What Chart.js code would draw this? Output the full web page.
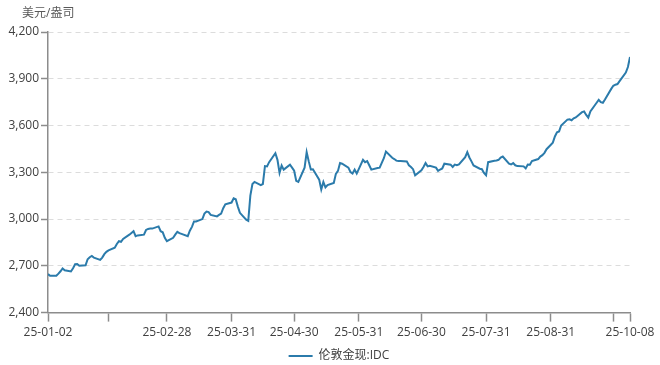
<!DOCTYPE html>
<html>
  <head>
    <meta charset="UTF-8" />
    <title>伦敦金现</title>
    <script src="https://cdn.jsdelivr.net/npm/chart.js@4.4.1/dist/chart.umd.min.js"></script>
    <style>
      html, body { margin: 0; padding: 0; background: #fff; }
      #wrap { position: relative; width: 660px; height: 365px; }
    </style>
  </head>
  <body>
    <div id="wrap"><canvas id="goldChart"></canvas></div>
    <script>
      // trading days, one line per month
      const dates = [
        "2025-01-02","2025-01-03","2025-01-06","2025-01-07","2025-01-08","2025-01-09","2025-01-10","2025-01-13","2025-01-14","2025-01-15","2025-01-16","2025-01-17","2025-01-20","2025-01-21","2025-01-22","2025-01-23","2025-01-24","2025-01-27","2025-01-28","2025-01-29","2025-01-30","2025-01-31",
        "2025-02-03","2025-02-04","2025-02-05","2025-02-06","2025-02-07","2025-02-10","2025-02-11","2025-02-12","2025-02-13","2025-02-14","2025-02-17","2025-02-18","2025-02-19","2025-02-20","2025-02-21","2025-02-24","2025-02-25","2025-02-26","2025-02-27","2025-02-28",
        "2025-03-03","2025-03-04","2025-03-05","2025-03-06","2025-03-07","2025-03-10","2025-03-11","2025-03-12","2025-03-13","2025-03-14","2025-03-17","2025-03-18","2025-03-19","2025-03-20","2025-03-21","2025-03-24","2025-03-25","2025-03-26","2025-03-27","2025-03-28","2025-03-31",
        "2025-04-01","2025-04-02","2025-04-03","2025-04-04","2025-04-07","2025-04-08","2025-04-09","2025-04-10","2025-04-11","2025-04-14","2025-04-15","2025-04-16","2025-04-17","2025-04-18","2025-04-21","2025-04-22","2025-04-23","2025-04-24","2025-04-25","2025-04-28","2025-04-29","2025-04-30",
        "2025-05-01","2025-05-02","2025-05-05","2025-05-06","2025-05-07","2025-05-08","2025-05-09","2025-05-12","2025-05-13","2025-05-14","2025-05-15","2025-05-16","2025-05-19","2025-05-20","2025-05-21","2025-05-22","2025-05-23","2025-05-26","2025-05-27","2025-05-28","2025-05-29","2025-05-30",
        "2025-06-02","2025-06-03","2025-06-04","2025-06-05","2025-06-06","2025-06-09","2025-06-10","2025-06-11","2025-06-12","2025-06-13","2025-06-16","2025-06-17","2025-06-18","2025-06-19","2025-06-20","2025-06-23","2025-06-24","2025-06-25","2025-06-26","2025-06-27","2025-06-30",
        "2025-07-01","2025-07-02","2025-07-03","2025-07-04","2025-07-07","2025-07-08","2025-07-09","2025-07-10","2025-07-11","2025-07-14","2025-07-15","2025-07-16","2025-07-17","2025-07-18","2025-07-21","2025-07-22","2025-07-23","2025-07-24","2025-07-25","2025-07-28","2025-07-29","2025-07-30","2025-07-31",
        "2025-08-01","2025-08-04","2025-08-05","2025-08-06","2025-08-07","2025-08-08","2025-08-11","2025-08-12","2025-08-13","2025-08-14","2025-08-15","2025-08-18","2025-08-19","2025-08-20","2025-08-21","2025-08-22","2025-08-25","2025-08-26","2025-08-27","2025-08-28","2025-08-29",
        "2025-09-01","2025-09-02","2025-09-03","2025-09-04","2025-09-05","2025-09-08","2025-09-09","2025-09-10","2025-09-11","2025-09-12","2025-09-15","2025-09-16","2025-09-17","2025-09-18","2025-09-19","2025-09-22","2025-09-23","2025-09-24","2025-09-25","2025-09-26","2025-09-29","2025-09-30",
        "2025-10-01","2025-10-02","2025-10-03","2025-10-06","2025-10-07","2025-10-08"
      ];

      // 伦敦金现 (USD/oz), same order as dates
      const prices = [
        2647,2636,2636,2650,2665,2683,2672,2664,2685,2710,2712,2700,2704,2742,2755,2763,2753,2738,2753,2775,2790,2799,
        2816,2840,2858,2854,2873,2900,2911,2922,2890,2895,2900,2930,2937,2939,2939,2953,2922,2915,2880,2858,
        2880,2900,2918,2910,2905,2890,2925,2950,2985,2985,3000,3035,3048,3045,3027,3017,3027,3035,3070,3095,3106,
        3133,3127,3080,3040,2996,2988,3150,3225,3238,3218,3225,3340,3338,3365,3422,3380,3296,3344,3317,3349,3330,3310,
        3245,3238,3330,3429,3370,3318,3319,3253,3190,3238,3203,3218,3232,3290,3309,3359,3355,3330,3302,3292,3317,3292,
        3380,3365,3372,3345,3317,3328,3330,3360,3390,3433,3393,3385,3375,3372,3372,3370,3345,3334,3320,3281,3313,
        3334,3359,3338,3342,3330,3309,3318,3325,3355,3349,3334,3349,3345,3350,3397,3429,3395,3370,3344,3323,3320,3296,3281,
        3365,3374,3376,3380,3395,3401,3355,3350,3359,3345,3340,3338,3325,3350,3349,3372,3385,3401,3410,3425,3448,
        3490,3530,3556,3562,3600,3638,3640,3634,3646,3652,3686,3690,3668,3651,3690,3746,3765,3750,3746,3767,3835,3855,
        3862,3866,3885,3940,3975,4040
      ];

      // x axis ticks (month ends), some drawn without a label
      const tickDates = ["2025-01-02","2025-01-31","2025-02-28","2025-03-31","2025-04-30","2025-05-31","2025-06-30","2025-07-31","2025-08-31","2025-09-30","2025-10-08"];
      const hiddenTickLabels = ["2025-01-31","2025-09-30"];

      const yTicks = [2400, 2700, 3000, 3300, 3600, 3900, 4200];
      const seriesName = "伦敦金现:IDC";
      const unitLabel = "美元/盎司";

      const DAY = 86400000;
      const start = Date.parse(dates[0] + "T00:00:00Z");
      const dayOf = (d) => Math.round((Date.parse(d + "T00:00:00Z") - start) / DAY);
      const tickDays = tickDates.map(dayOf);

      const points = dates.map((d, i) => ({ x: dayOf(d), y: prices[i] }));

      const fontFamily = "'Open Sans', 'Noto Sans CJK SC', sans-serif";
      const axisGray = "#8c8c8c";
      const textGray = "#404040";

      // unit label drawn flat above the y axis
      const unitTitle = {
        id: "unitTitle",
        afterDraw(chart) {
          const { ctx, chartArea } = chart;
          ctx.save();
          ctx.font = "12px " + fontFamily;
          ctx.fillStyle = "#595959";
          ctx.textAlign = "left";
          ctx.textBaseline = "middle";
          ctx.fillText(unitLabel, chartArea.left - 26, chartArea.top - 18);
          ctx.restore();
        }
      };

      // centre the legend under the plot area rather than the canvas
      const legendShift = {
        id: "legendShift",
        afterLayout(chart) {
          const lg = chart.legend;
          if (!lg) return;
          const dx = (chart.chartArea.left + chart.chartArea.right) / 2 - (lg.left + lg.right) / 2;
          lg.left += dx;
          lg.right += dx;
        }
      };

      new Chart(document.getElementById("goldChart"), {
        type: "line",
        data: {
          datasets: [
            {
              label: seriesName,
              data: points,
              borderColor: "#2b7bab",
              backgroundColor: "#2b7bab",
              borderWidth: 2,
              pointRadius: 0,
              tension: 0
            }
          ]
        },
        options: {
          responsive: true,
          maintainAspectRatio: false,
          animation: false,
          layout: { padding: { left: 4, right: 30, top: 32, bottom: -7 } },
          plugins: {
            tooltip: { enabled: false },
            legend: {
              position: "bottom",
              labels: {
                usePointStyle: true,
                pointStyle: "line",
                pointStyleWidth: 24,
                color: textGray,
                font: { family: fontFamily, size: 12 },
                padding: 6
              }
            }
          },
          scales: {
            x: {
              type: "linear",
              min: 0,
              max: tickDays[tickDays.length - 1],
              afterBuildTicks: (scale) => {
                scale.ticks = tickDays.map((v) => ({ value: v }));
              },
              ticks: {
                autoSkip: false,
                maxRotation: 0,
                color: textGray,
                font: { family: fontFamily, size: 12 },
                padding: 4,
                callback: (value) => {
                  const i = tickDays.indexOf(value);
                  if (i < 0 || hiddenTickLabels.includes(tickDates[i])) return "";
                  return tickDates[i].slice(2);
                }
              },
              grid: {
                drawOnChartArea: false,
                drawTicks: true,
                tickLength: 9,
                tickColor: axisGray,
                tickWidth: 1.5
              },
              border: { color: axisGray, width: 1.5 }
            },
            y: {
              min: yTicks[0],
              max: yTicks[yTicks.length - 1],
              afterBuildTicks: (scale) => {
                scale.ticks = yTicks.map((v) => ({ value: v }));
              },
              afterFit: (scale) => {
                scale.width = 44;
              },
              ticks: {
                color: textGray,
                font: { family: fontFamily, size: 12 },
                padding: 2,
                callback: (value) => value.toLocaleString("en-US")
              },
              grid: {
                color: "#dcdcdc",
                lineWidth: 1,
                drawTicks: true,
                tickLength: 7,
                tickColor: axisGray,
                tickWidth: 1.5
              },
              border: { color: axisGray, width: 1.5, dash: [5, 4] }
            }
          }
        },
        plugins: [unitTitle, legendShift]
      });
    </script>
  </body>
</html>
